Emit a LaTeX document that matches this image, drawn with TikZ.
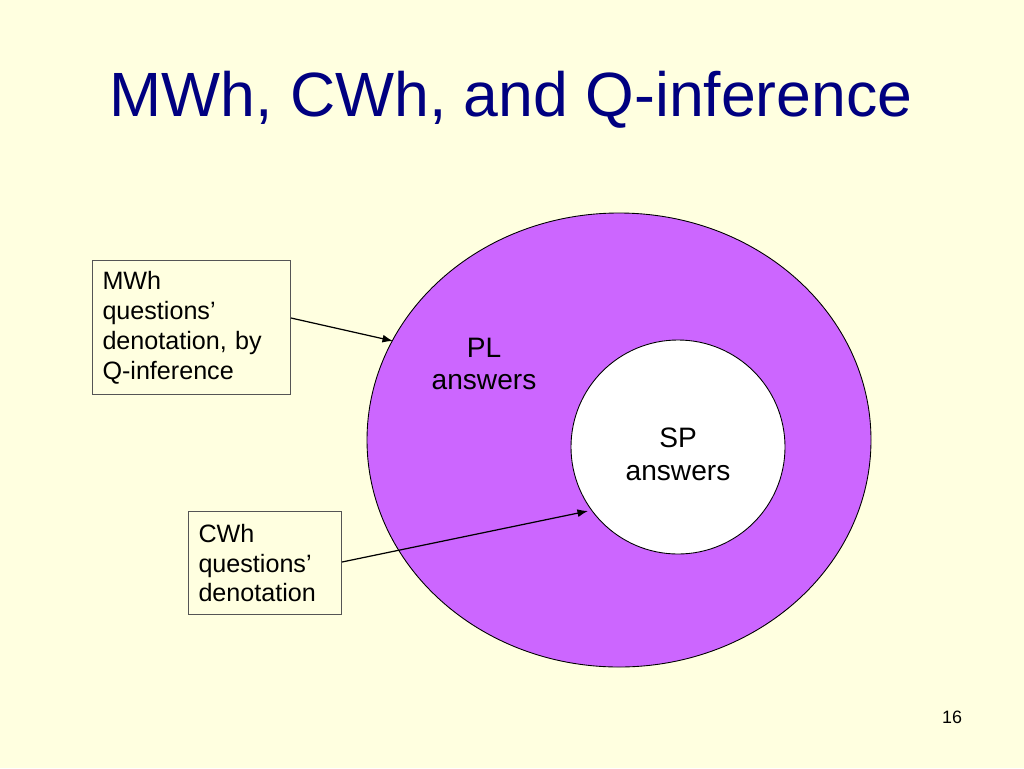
\documentclass[tikz,border=0pt]{standalone}
\usepackage{fontspec}
\setmainfont{Liberation Sans}
\usetikzlibrary{arrows.meta}
\definecolor{slidebg}{HTML}{FFFFE0}
\definecolor{titleblue}{HTML}{000080}
\definecolor{plpurple}{HTML}{CC66FF}
\definecolor{boxline}{HTML}{555555}

\begin{document}
\begin{tikzpicture}[x=0.02cm,y=-0.02cm,
        note/.style={draw=boxline,line width=0.6pt,anchor=north west,align=left,inner xsep=0.2cm,
          font=\fontsize{14.3}{17}\selectfont},
        label/.style={align=center,font=\fontsize{16}{18.7}\selectfont}]
        \fill[slidebg] (0,0) rectangle (1024,768);
        \useasboundingbox (0,0) rectangle (1024,768);

        \node[text=titleblue,font=\fontsize{35.6}{42}\selectfont] (T) at (511,100) {MWh, CWh, and Q-inference};

        \draw[fill=plpurple,line width=0.5pt] (619,440) ellipse [x radius=252,y radius=227];
        \draw[fill=white,line width=0.5pt] (678,447) circle [radius=107];
        \node[label] (PL) at (484,364) {PL\\answers};
        \node[label] (SP) at (678,454) {SP\\answers};

        \node[note,text width=3.56cm,minimum height=2.68cm] (MWh) at (92,260) {MWh\\questions’\\denotation, by\\Q-inference};
        \node[note,text width=2.66cm,minimum height=2.06cm] (CWh) at (188,511) {CWh\\questions’\\denotation};

        \coordinate (PLedge) at (393,341);
        \coordinate (SPedge) at (588,511);
        \draw[-{Latex[length=6pt,width=4.5pt]},line width=0.7pt] (MWh.east |- 0,318) to (PLedge);
        \draw[-{Latex[length=6pt,width=4.5pt]},line width=0.7pt] (CWh.east |- 0,562) to (SPedge);

        \node[font=\fontsize{10.2}{12}\selectfont] (N) at (952,717) {16};
      \end{tikzpicture}
\end{document}
